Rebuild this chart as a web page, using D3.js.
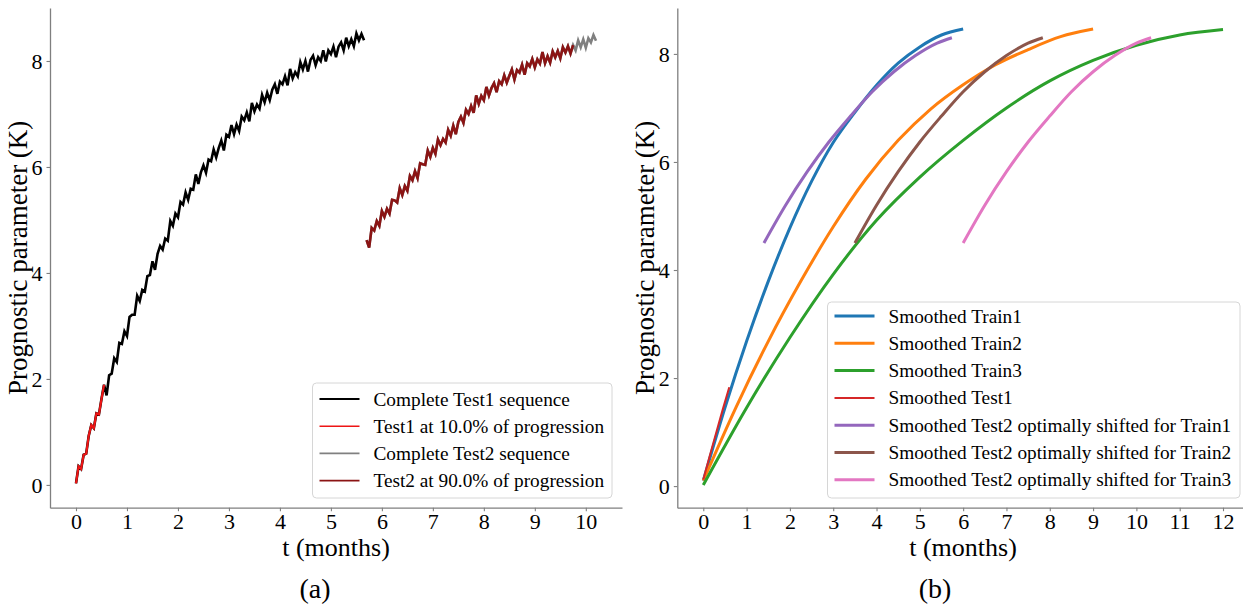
<!DOCTYPE html>
<html>
<head>
<meta charset="utf-8">
<script src="https://cdn.jsdelivr.net/npm/d3@7"></script>
<style>
  html, body { margin: 0; padding: 0; background: #fff; }
  svg { display: block; }
  text { font-family: "Liberation Serif", "Times New Roman", serif; fill: #000; }
</style>
</head>
<body>
<svg id="chart" width="1243" height="609"></svg>
<script>
// ---------------- DATA ----------------
// Panel (a): noisy prognostic parameter sequences (sampled every 0.05 months)
const test1Start = 0.0;
const test1Step = 0.05;
const test1Values = [
  0.03,0.35,0.30,0.57,0.59,0.93,1.13,1.07,1.35,1.33,1.62,1.89,1.69,2.07,2.10,2.39,2.32,2.68,2.66,2.90,
  2.81,3.17,3.21,3.21,3.57,3.47,3.68,3.65,3.94,3.96,4.22,4.06,4.36,4.51,4.44,4.65,4.61,4.98,4.89,5.12,
  5.05,5.34,5.29,5.52,5.38,5.59,5.57,5.86,5.68,5.90,6.03,5.89,6.14,6.11,6.33,6.18,6.36,6.50,6.31,6.61,
  6.57,6.79,6.62,6.80,6.68,6.95,6.88,7.03,6.86,7.21,7.05,7.18,7.10,7.36,7.22,7.40,7.26,7.46,7.56,7.38,
  7.61,7.56,7.71,7.54,7.85,7.67,7.79,7.71,7.98,7.84,8.00,7.80,8.02,8.10,7.92,8.07,8.00,8.20,7.99,8.20,
  8.13,8.27,8.07,8.27,8.35,8.20,8.44,8.28,8.41,8.28,8.52,8.39,8.51,8.39
];
const test1PartialCount = 12;   // Test1 at 10.0% of progression

const test2Start = 5.70;
const test2Step = 0.05;
const test2Values = [
  4.62,4.48,4.85,4.80,4.98,4.89,5.17,5.06,5.21,5.12,5.38,5.37,5.33,5.60,5.47,5.64,5.55,5.83,5.75,5.92,
  5.79,6.07,6.05,6.04,6.31,6.19,6.36,6.25,6.52,6.41,6.53,6.46,6.70,6.59,6.78,6.62,6.85,6.95,6.83,7.08,
  7.00,7.15,7.02,7.35,7.19,7.34,7.26,7.51,7.35,7.49,7.58,7.41,7.62,7.56,7.73,7.59,7.72,7.84,7.65,7.83,
  7.78,7.93,7.74,7.96,7.90,8.04,7.88,8.03,7.95,8.17,7.96,8.09,7.97,8.18,8.07,8.19,8.05,8.26,8.16,8.28,
  8.14,8.30,8.20,8.39,8.26,8.41,8.25,8.43,8.35,8.49,8.38
];
const test2PartialCount = 82;   // Test2 at 90.0% of progression

const legendA = ["Complete Test1 sequence", "Test1 at 10.0% of progression",
                 "Complete Test2 sequence", "Test2 at 90.0% of progression"];

// Panel (b): smoothed curves
const train1T = [0,0.5,1,1.5,2,2.5,3,3.5,4,4.5,5,5.5,6];
const train1Y = [0.10,1.45,2.68,3.79,4.78,5.64,6.36,6.92,7.42,7.83,8.13,8.35,8.46];
const train2T = [0,0.75,1.5,2.25,3,3.75,4.5,5.25,6,6.75,7.5,8.25,9];
const train2Y = [0.10,1.45,2.68,3.79,4.80,5.68,6.40,6.98,7.43,7.80,8.08,8.32,8.46];
const train3T = [0,1,2,3,4,5,6,7,8,9,10,11,12];
const train3Y = [0.02,1.45,2.75,3.92,4.92,5.72,6.40,7.00,7.50,7.88,8.16,8.35,8.45];
const smTest1T = [0,0.15,0.3,0.45,0.6];
const smTest1Y = [0.12,0.56,0.99,1.42,1.83];
const shift1T = [1.40,1.90,2.40,2.90,3.40,3.90,4.40,4.90,5.40,5.74];
const shift1Y = [4.50,5.20,5.82,6.37,6.85,7.30,7.67,7.97,8.20,8.30];
const shift2T = [3.50,4.00,4.50,5.00,5.50,6.00,6.50,7.00,7.50,7.84];
const shift2Y = [4.50,5.20,5.82,6.37,6.85,7.30,7.67,7.97,8.20,8.30];
const shift3T = [6.00,6.50,7.00,7.50,8.00,8.50,9.00,9.50,10.00,10.34];
const shift3Y = [4.50,5.20,5.82,6.37,6.85,7.30,7.67,7.97,8.20,8.30];

const legendB = ["Smoothed Train1", "Smoothed Train2", "Smoothed Train3", "Smoothed Test1",
  "Smoothed Test2 optimally shifted for Train1",
  "Smoothed Test2 optimally shifted for Train2",
  "Smoothed Test2 optimally shifted for Train3"];

const xTicksA = [0,1,2,3,4,5,6,7,8,9,10];
const xTicksB = [0,1,2,3,4,5,6,7,8,9,10,11,12];
const yTicks = [0,2,4,6,8];

const xLabel = "t (months)";
const yLabel = "Prognostic parameter (K)";

// ---------------- DRAWING ----------------
const svg = d3.select("#chart");
const axisColor = "#7f7f7f";

function styleAxis(g) {
  g.select(".domain").attr("stroke", axisColor).attr("stroke-width", 1.3);
  g.selectAll(".tick line").attr("stroke", axisColor).attr("stroke-width", 1.1);
  g.selectAll(".tick text").attr("font-size", 22).attr("font-family", "Liberation Serif").attr("fill", "#000");
}

function makePanel(cfg) {
  const x = d3.scaleLinear().domain(cfg.xDomain).range(cfg.xRange);
  const y = d3.scaleLinear().domain(cfg.yDomain).range(cfg.yRange);
  const g = svg.append("g");
  const gx = g.append("g").attr("transform", `translate(0,${cfg.yRange[0]})`)
    .call(d3.axisBottom(x).tickValues(cfg.xTicks).tickFormat(d3.format("d")).tickSize(3.5).tickSizeOuter(0).tickPadding(2));
  styleAxis(gx);
  const gy = g.append("g").attr("transform", `translate(${cfg.xRange[0]},0)`)
    .call(d3.axisLeft(y).tickValues(yTicks).tickFormat(d3.format("d")).tickSize(3.5).tickSizeOuter(0).tickPadding(4));
  styleAxis(gy);
  gy.selectAll(".tick text").attr("dy", "0.34em");
  // labels
  g.append("text").attr("x", cfg.xLabelX).attr("y", 556).attr("text-anchor", "middle")
    .attr("font-size", 26).text(xLabel);
  g.append("text").attr("transform", `translate(${cfg.yLabelX},${(cfg.yRange[0] + cfg.yRange[1]) / 2}) rotate(-90)`)
    .attr("text-anchor", "middle").attr("font-size", 27).text(yLabel);
  g.append("text").attr("x", cfg.capX).attr("y", 598).attr("text-anchor", "middle")
    .attr("font-size", 28).text(cfg.caption);
  return { x, y, g };
}

// Panel (a)
const A = makePanel({
  xDomain: [-0.51, 10.71], xRange: [50, 622],
  yDomain: [-0.43, 9.0], yRange: [507.7, 8],
  xTicks: xTicksA, xLabelX: 336, yLabelX: 27, capX: 315, caption: "(a)"
});

const pts1 = test1Values.map((v, i) => [test1Start + i * test1Step, v]);
const pts2 = test2Values.map((v, i) => [test2Start + i * test2Step, v]);
const lineA = d3.line().x(d => A.x(d[0])).y(d => A.y(d[1]));

const seriesA = [
  { pts: pts1, color: "#000000", w: 2.6, lw: 1.8 },
  { pts: pts1.slice(0, test1PartialCount), color: "#ee1515", w: 2.2, lw: 1.6 },
  { pts: pts2, color: "#808080", w: 2.6, lw: 1.8 },
  { pts: pts2.slice(0, test2PartialCount), color: "#8b1414", w: 2.6, lw: 1.8 }
];
A.g.append("g").selectAll("path").data(seriesA).join("path")
  .attr("d", d => lineA(d.pts)).attr("fill", "none")
  .attr("stroke", d => d.color).attr("stroke-width", d => d.w)
  .attr("stroke-linejoin", "miter");

function drawLegend(g, items, box, rowY0, rowStep, fontSize) {
  g.append("rect").attr("x", box.x).attr("y", box.y).attr("width", box.w).attr("height", box.h)
    .attr("rx", 4).attr("fill", "#fff").attr("fill-opacity", 0.85)
    .attr("stroke", "#d6d6d6").attr("stroke-width", 1);
  items.forEach((it, i) => {
    const yy = rowY0 + i * rowStep;
    g.append("line").attr("x1", box.x + 7).attr("x2", box.x + 47).attr("y1", yy).attr("y2", yy)
      .attr("stroke", it.color).attr("stroke-width", it.w);
    g.append("text").attr("x", box.x + 61).attr("y", yy + 6.5).attr("font-size", fontSize).text(it.label);
  });
}

drawLegend(A.g, legendA.map((l, i) => ({ label: l, color: seriesA[i].color, w: seriesA[i].lw })),
  { x: 312.5, y: 383, w: 299.5, h: 115 }, 399, 27.2, 19.3);

// Panel (b)
const B = makePanel({
  xDomain: [-0.6, 12.6], xRange: [677.3, 1249],
  yDomain: [-0.4, 8.85], yRange: [507.7, 8],
  xTicks: xTicksB, xLabelX: 963, yLabelX: 654, capX: 935, caption: "(b)"
});

const zip = (t, v) => t.map((d, i) => [d, v[i]]);
const seriesB = [
  { pts: zip(train1T, train1Y), color: "#1f77b4", w: 3 },
  { pts: zip(train2T, train2Y), color: "#ff7f0e", w: 3 },
  { pts: zip(train3T, train3Y), color: "#2ca02c", w: 3 },
  { pts: zip(smTest1T, smTest1Y), color: "#d62728", w: 2 },
  { pts: zip(shift1T, shift1Y), color: "#9467bd", w: 3 },
  { pts: zip(shift2T, shift2Y), color: "#8c564b", w: 3 },
  { pts: zip(shift3T, shift3Y), color: "#e377c2", w: 3 }
];
const lineB = d3.line().x(d => B.x(d[0])).y(d => B.y(d[1])).curve(d3.curveMonotoneX);
B.g.append("g").selectAll("path").data(seriesB).join("path")
  .attr("d", d => lineB(d.pts)).attr("fill", "none")
  .attr("stroke", d => d.color).attr("stroke-width", d => d.w);

drawLegend(B.g, legendB.map((l, i) => ({ label: l, color: seriesB[i].color, w: seriesB[i].w })),
  { x: 827.5, y: 302, w: 412.5, h: 196 }, 316, 27.3, 19.3);
</script>
</body>
</html>
